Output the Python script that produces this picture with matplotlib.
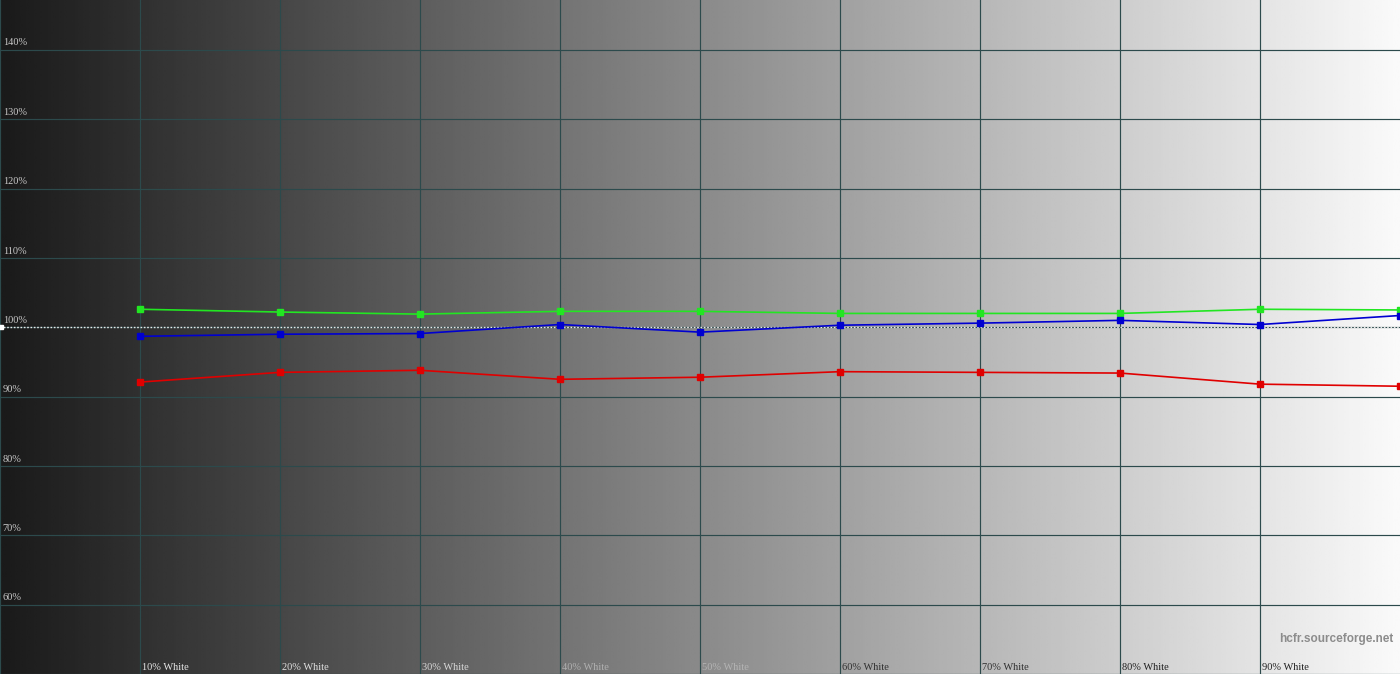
import numpy as np
import matplotlib
matplotlib.use("Agg")
import matplotlib.pyplot as plt
from matplotlib import transforms

# --- DATA ---
levels = [10, 20, 30, 40, 50, 60, 70, 80, 90, 100]
green = [102.6, 102.2, 101.9, 102.3, 102.3, 102.0, 102.0, 102.0, 102.6, 102.5]
blue = [98.7, 99.0, 99.1, 100.4, 99.3, 100.3, 100.6, 101.0, 100.4, 101.7]
red = [92.1, 93.5, 93.8, 92.5, 92.8, 93.6, 93.5, 93.4, 91.8, 91.5]

y_ticks = [60, 70, 80, 90, 100, 110, 120, 130, 140]
y_labels = ['60%', '70%', '80%', '90%', '100%', '110%', '120%', '130%', '140%']
x_ticks = [10, 20, 30, 40, 50, 60, 70, 80, 90]
x_labels = ['10% White', '20% White', '30% White', '40% White', '50% White',
            '60% White', '70% White', '80% White', '90% White']

# --- STYLE ---
GRID_COLOR = '#2c4a4c'
SERIF = ['Liberation Serif', 'DejaVu Serif']
X_LABEL_COLORS = ['#e6e6e6', '#e0e0e0', '#d8d8d8', '#b0b0b0', '#b4b4b4',
                  '#303030', '#303030', '#202020', '#202020']
YMIN, YMAX = 50, 147.2

fig = plt.figure(figsize=(14, 6.74), dpi=100)
ax = fig.add_axes([0, 0, 1, 1])
ax.set_xlim(0, 100)
ax.set_ylim(YMIN, YMAX)
ax.set_axis_off()

# horizontal grey gradient background
grad = np.linspace(26, 250, 512) / 255.0
ax.imshow(np.tile(grad, (2, 1)), cmap='gray', vmin=0, vmax=1, aspect='auto',
          extent=[0, 100, YMIN, YMAX], zorder=0, interpolation='bilinear')

# grid
for x in [0] + x_ticks:
    ax.axvline(x, color=GRID_COLOR, lw=0.85, zorder=1)
for y in [50] + y_ticks:
    ax.axhline(y, color=GRID_COLOR, lw=0.85, zorder=1)

# 100% reference
ax.axhline(100, color='#e8e8e8', lw=1.0, ls=(0, (1.2, 1.2)), zorder=2)
ax.plot([0.1], [100], marker='s', ms=3.5, color='white', mec='white',
        clip_on=False, zorder=3)

# series
for vals, col in [(green, '#22e622'), (blue, '#0000d0'), (red, '#e00000')]:
    ax.plot(levels, vals, color=col, lw=1.2, marker='s', ms=5, mec=col,
            mfc=col, zorder=4, clip_on=False)

# y labels
ytrans = transforms.blended_transform_factory(ax.transAxes, ax.transData)
for v, lab in zip(y_ticks, y_labels):
    ax.text(0.002, v + 0.35, lab, transform=ytrans, fontsize=7.5,
            family=SERIF, color='#c8c8c8', ha='left', va='bottom', zorder=5)

# x labels
for x, lab, c in zip(x_ticks, x_labels, X_LABEL_COLORS):
    ax.text(x + 0.12, YMIN + 0.25, lab, fontsize=7.5, family=SERIF,
            color=c, ha='left', va='bottom', zorder=5)

# watermark
ax.text(0.995, 0.052, 'hcfr.sourceforge.net', transform=ax.transAxes,
        fontsize=8.5, family=['Liberation Sans', 'DejaVu Sans'],
        fontweight='bold', color='#8c8c8c', ha='right', va='center', zorder=5)

fig.savefig('out.png', dpi=100)
